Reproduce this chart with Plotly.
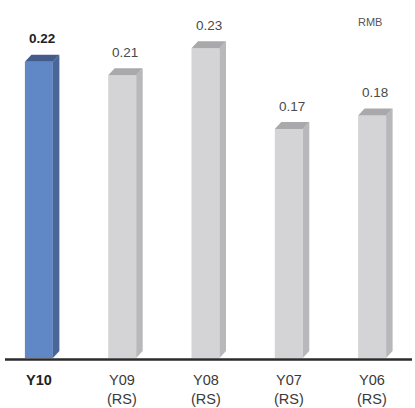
import plotly.graph_objects as go

# Dividend per share by year (RMB)
categories = ["Y10", "Y09", "Y08", "Y07", "Y06"]
category_labels = ["<b>Y10</b>", "Y09<br>(RS)", "Y08<br>(RS)", "Y07<br>(RS)", "Y06<br>(RS)"]
values = [0.22, 0.21, 0.23, 0.17, 0.18]
value_labels = ["<b>0.22</b>", "0.21", "0.23", "0.17", "0.18"]
unit_label = "RMB"

W, H = 415, 408
MB = 50                      # bottom margin: baseline sits at y = 358 px
PLOT_H = H - MB
PX_PER_UNIT = 1347.0         # vertical scale
PX_PER_CAT = 83.3            # horizontal spacing of categories
X0_PX = 38.9                 # pixel center of the first category

y_max = PLOT_H / PX_PER_UNIT
x_lo = -X0_PX / PX_PER_CAT
x_hi = (W - X0_PX) / PX_PER_CAT

bar_w = 28 / PX_PER_CAT      # front face width
dx = 6.5 / PX_PER_CAT        # depth offset (x)
dy = 7.0 / PX_PER_UNIT       # depth offset (y)

styles = {
    "hi": dict(front="#6087c6", side="#4a6697", top="#435c8c"),
    "lo": dict(front="#d4d4d6", side="#b8b8bb", top="#a9a9ac"),
}

fig = go.Figure()

xs = list(range(len(categories)))
for i, (x, v) in enumerate(zip(xs, values)):
    st = styles["hi" if i == 0 else "lo"]
    xl, xr = x - bar_w / 2, x + bar_w / 2
    # side face
    fig.add_trace(go.Scatter(
        x=[xr, xr + dx, xr + dx, xr, xr],
        y=[0, dy, v + dy, v, 0],
        fill="toself", fillcolor=st["side"], mode="lines",
        line=dict(width=0, color=st["side"]), hoverinfo="skip", showlegend=False))
    # top face
    fig.add_trace(go.Scatter(
        x=[xl, xl + dx, xr + dx, xr, xl],
        y=[v, v + dy, v + dy, v, v],
        fill="toself", fillcolor=st["top"], mode="lines",
        line=dict(width=0, color=st["top"]), hoverinfo="skip", showlegend=False))

# front faces
fig.add_trace(go.Bar(
    x=xs, y=values, width=bar_w,
    marker=dict(color=[styles["hi"]["front"]] + [styles["lo"]["front"]] * 4,
                line=dict(width=0)),
    hoverinfo="skip", showlegend=False))

annotations = []
for i, (x, v, t) in enumerate(zip(xs, values, value_labels)):
    annotations.append(dict(
        x=x + dx / 2, y=v, xref="x", yref="y", text=t, showarrow=False,
        yanchor="middle", yshift=23,
        font=dict(family="Liberation Sans, Arial, sans-serif", size=13.5,
                  color="#222222" if i == 0 else "#4a4a4a")))
for i, (x, t) in enumerate(zip(xs, category_labels)):
    annotations.append(dict(
        x=x, y=0, xref="x", yref="y", text=t, showarrow=False,
        yanchor="top", yshift=-12,
        font=dict(family="Liberation Sans, Arial, sans-serif", size=14.5,
                  color="#222222" if i == 0 else "#3a3a3a")))
annotations.append(dict(
    x=370 / W, y=1 - 21.7 / PLOT_H, xref="paper", yref="paper", text=unit_label,
    showarrow=False, xanchor="center", yanchor="middle",
    font=dict(family="Liberation Sans, Arial, sans-serif", size=11, color="#555555")))

fig.update_layout(
    width=W, height=H,
    margin=dict(l=0, r=0, t=0, b=MB),
    paper_bgcolor="white", plot_bgcolor="white",
    barmode="overlay",
    xaxis=dict(range=[x_lo, x_hi], visible=False, fixedrange=True),
    yaxis=dict(range=[0, y_max], visible=False, fixedrange=True),
    annotations=annotations,
    # baseline, drawn just below the bars
    shapes=[dict(type="line", xref="paper", yref="paper",
                 x0=5 / W, x1=412 / W, y0=-1.5 / PLOT_H, y1=-1.5 / PLOT_H,
                 line=dict(color="#2b2b2b", width=2.5))],
)

fig.write_html("out.html")
